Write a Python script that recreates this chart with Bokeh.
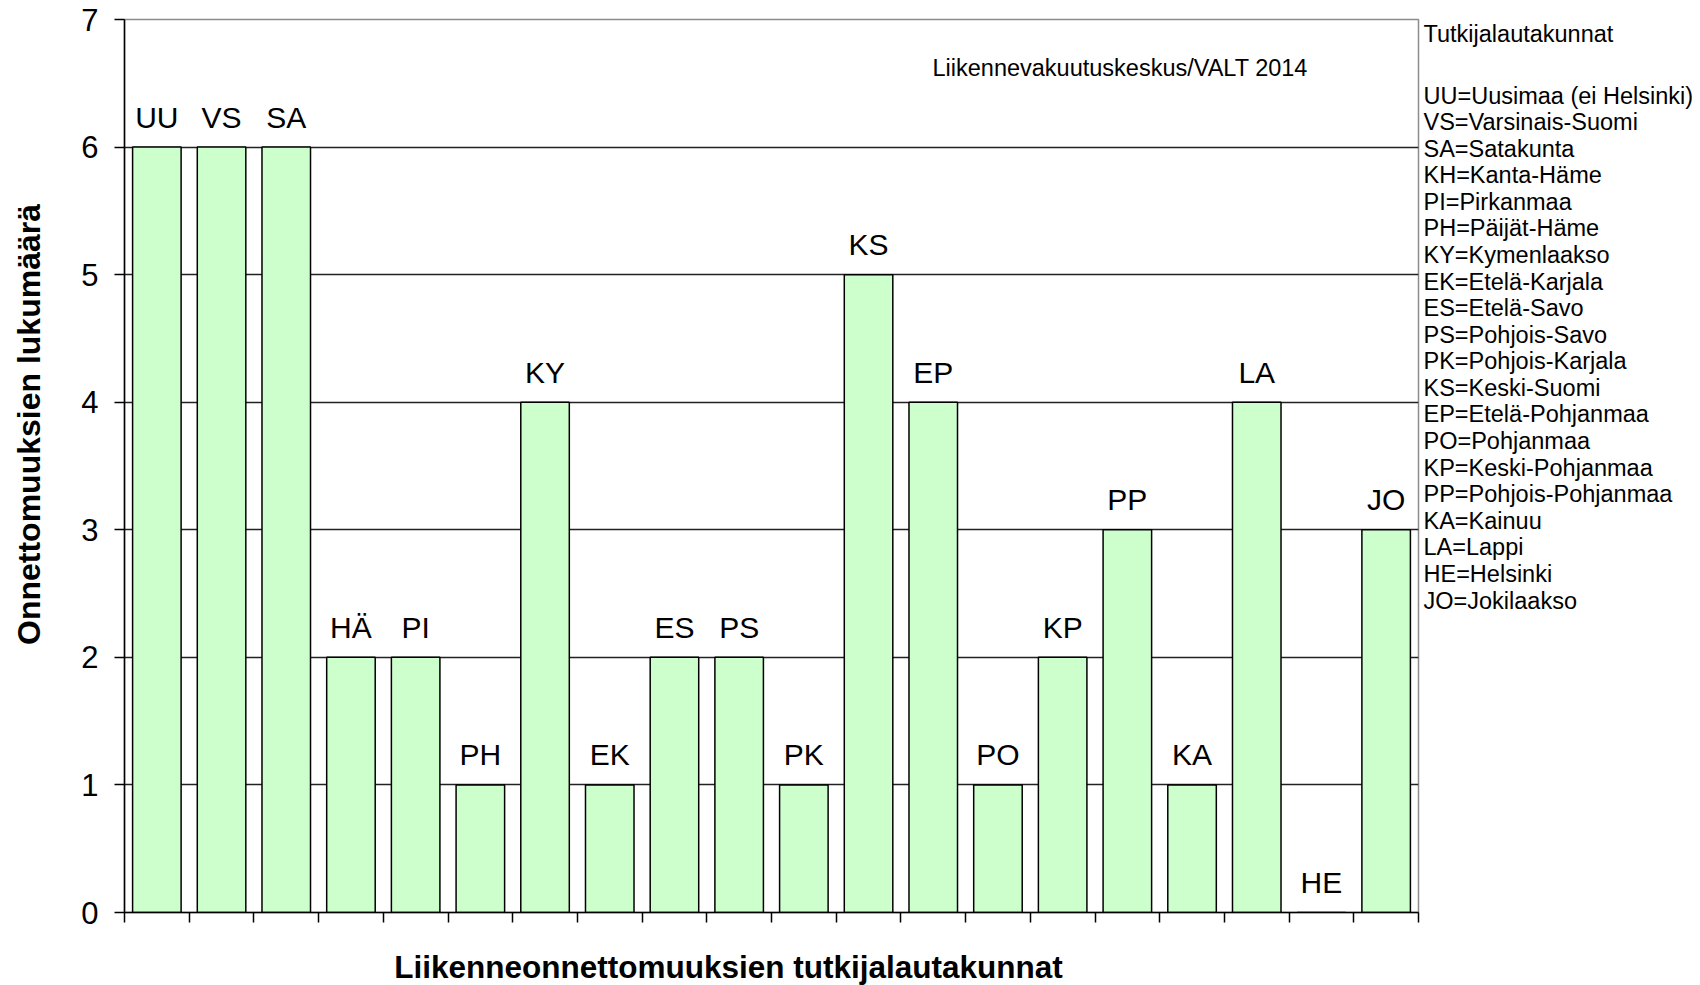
from bokeh.plotting import figure
from bokeh.models import ColumnDataSource, Range1d, FixedTicker, Label
from bokeh.layouts import row, column
from bokeh.core.properties import value
from bokeh.embed import file_html
from bokeh.resources import INLINE
from math import pi

# ---- data ----
codes = ["UU", "VS", "SA", "HÄ", "PI", "PH", "KY", "EK", "ES", "PS",
         "PK", "KS", "EP", "PO", "KP", "PP", "KA", "LA", "HE", "JO"]
counts = [6, 6, 6, 2, 2, 1, 4, 1, 2, 2, 1, 5, 4, 1, 2, 3, 1, 4, 0, 3]
y_ticks = [0, 1, 2, 3, 4, 5, 6, 7]
legend_title = "Tutkijalautakunnat"
legend_lines = ["UU=Uusimaa (ei Helsinki)", "VS=Varsinais-Suomi", "SA=Satakunta",
                "KH=Kanta-Häme", "PI=Pirkanmaa", "PH=Päijät-Häme", "KY=Kymenlaakso",
                "EK=Etelä-Karjala", "ES=Etelä-Savo", "PS=Pohjois-Savo",
                "PK=Pohjois-Karjala", "KS=Keski-Suomi", "EP=Etelä-Pohjanmaa",
                "PO=Pohjanmaa", "KP=Keski-Pohjanmaa", "PP=Pohjois-Pohjanmaa",
                "KA=Kainuu", "LA=Lappi", "HE=Helsinki", "JO=Jokilaakso"]
source_text = "Liikennevakuutuskeskus/VALT 2014"
x_title = "Liikenneonnettomuuksien tutkijalautakunnat"
y_title = "Onnettomuuksien lukumäärä"

FONT = "Liberation Sans"
n = len(codes)

# ---- layout (page pixels) ----
TOTAL_W = 1696
T = 19              # frame top
FB = 912            # frame bottom
B = 24              # bottom border of the row figures
HM = FB + B         # height of the row figures
HX = 985 - HM       # height of the x-title strip
WY = 60             # width of the y-title strip
FL = 124            # frame left
FW = 1294           # frame width
L = FL - WY
R = 4
W = L + FW + R
WL = TOTAL_W - WY - W


def blank(width, height, xr, yr, in_row):
    f = figure(width=width, height=height, output_backend="svg", toolbar_location=None,
               x_range=xr, y_range=yr,
               min_border_left=0, min_border_right=0,
               min_border_top=T if in_row else 0,
               min_border_bottom=B if in_row else 0,
               background_fill_color="white", border_fill_color="white")
    f.outline_line_color = None
    f.axis.visible = False
    f.grid.visible = False
    return f


# ---- main chart ----
p = figure(width=W, height=HM, output_backend="svg", toolbar_location=None,
           x_range=Range1d(0, n), y_range=Range1d(0, 7),
           min_border_left=L, min_border_right=R, min_border_top=T, min_border_bottom=B,
           background_fill_color="white", border_fill_color="white")

p.outline_line_color = "#8c8c8c"
p.outline_line_width = 1.5

p.xgrid.visible = False
p.ygrid.ticker = FixedTicker(ticks=y_ticks)
p.ygrid.grid_line_color = "#222222"
p.ygrid.grid_line_width = 1.6

ya = p.yaxis[0]
ya.ticker = FixedTicker(ticks=y_ticks)
ya.major_tick_out = 10
ya.major_tick_in = 0
ya.minor_tick_out = 0
ya.minor_tick_in = 0
ya.axis_line_color = "black"
ya.axis_line_width = 1.5
ya.major_tick_line_width = 1.5
ya.major_label_text_font = FONT
ya.major_label_text_font_size = "31px"
ya.major_label_text_color = "black"
ya.major_label_standoff = 16

xa = p.xaxis[0]
xa.ticker = FixedTicker(ticks=list(range(n + 1)))
xa.major_tick_out = 10
xa.major_tick_in = 0
xa.minor_tick_out = 0
xa.minor_tick_in = 0
xa.axis_line_color = "black"
xa.axis_line_width = 1.5
xa.major_tick_line_width = 1.5
xa.major_label_overrides = {i: "" for i in range(n + 1)}
xa.major_label_text_font_size = "0px"
xa.major_label_standoff = 0

xs = [i + 0.5 for i in range(n)]
src = ColumnDataSource(dict(x=xs, top=counts, code=codes))
p.vbar(x="x", top="top", bottom=0, width=0.75, source=src,
       fill_color="#ccffcc", line_color="black", line_width=1.5)

p.text(x="x", y="top", text="code", source=src, y_offset=-30,
       text_align="center", text_baseline="alphabetic",
       text_font=value(FONT), text_font_size="30px", text_color="black")

p.add_layout(Label(x=n * (932 - FL) / FW, y=7 * (FB - 67) / (FB - T),
                   text=source_text, text_font=FONT,
                   text_font_size="23.5px", text_color="black",
                   text_align="left", text_baseline="middle"))

# ---- y-title strip (y data = -page y) ----
yt = blank(WY, HM, Range1d(0, WY), Range1d(-FB, -T), True)
yt.text(x=[28], y=[-424], text=[y_title], angle=pi / 2,
        text_align="center", text_baseline="middle",
        text_font=value(FONT), text_font_size="32px", text_font_style="bold",
        text_color="black")

# ---- legend strip (y data = page y) ----
lg = blank(WL, HM, Range1d(0, WL), Range1d(FB, T), True)
leg_text = [legend_title] + legend_lines
leg_y = [33] + [95 + i * 26.58 for i in range(len(legend_lines))]
lsrc = ColumnDataSource(dict(x=[1] * len(leg_text), y=leg_y, t=leg_text))
lg.text(x="x", y="y", text="t", source=lsrc, text_align="left", text_baseline="middle",
        text_font=value(FONT), text_font_size="23.5px", text_color="black")

# ---- x-title strip (y data = page y - HM) ----
xt = blank(TOTAL_W, HX, Range1d(0, TOTAL_W), Range1d(HX, 0), False)
xt.text(x=[728], y=[966 - HM], text=[x_title],
        text_align="center", text_baseline="middle",
        text_font=value(FONT), text_font_size="31.5px", text_font_style="bold",
        text_color="black")

layout = column(row(yt, p, lg), xt)
open("out.html", "w").write(file_html(layout, INLINE))
